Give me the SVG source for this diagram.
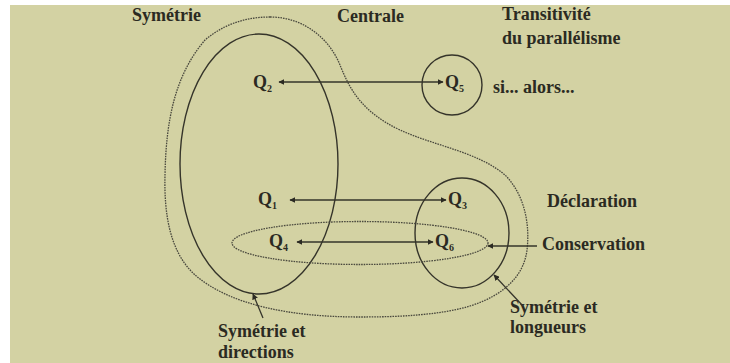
<svg xmlns="http://www.w3.org/2000/svg" width="730" height="363" viewBox="0 0 730 363">
<style>
.t{font-family:"Liberation Serif","Times New Roman",serif;font-weight:bold;font-size:18px;fill:#2b2a22}
.s{font-size:10px}
.solid{fill:none;stroke:#35342a;stroke-width:1.4}
.dot{fill:none;stroke:#4a493e;stroke-width:1.3;stroke-dasharray:1.6 1}
.ar{fill:none;stroke:#35342a;stroke-width:1.3}
</style>
<defs>
<marker id="ah" viewBox="0 0 10 10" refX="9" refY="5" markerWidth="6" markerHeight="6" orient="auto-start-reverse" markerUnits="userSpaceOnUse">
<path d="M0,0 L10,5 L0,10 Z" fill="#2b2a22"/>
</marker>
</defs>
<rect x="0" y="0" width="730" height="363" fill="#ffffff"/>
<rect x="10" y="5" width="720" height="358" fill="#d3d2a3"/>

<g id="centrale">
<path class="dot" d="M270 17 C305 17 330 40 340 65 C350 90 362 112 400 130 C435 146 478 152 505 175 C525 195 530 225 527 250 C524 275 505 295 470 306 C440 315 400 317 360 317 C290 317 230 305 195 275 C170 252 164 215 165 175 C166 120 175 75 205 40 C225 23 248 17 270 17 Z"/>
<text class="t" x="337" y="22">Centrale</text>
</g>

<g id="symetrie-directions">
<ellipse class="solid" cx="259" cy="164" rx="79" ry="130"/>
<text class="t" x="218" y="337">Symétrie et</text>
<text class="t" x="218" y="358">directions</text>
</g>

<g id="symetrie">
<text class="t" x="132" y="21">Symétrie</text>
</g>

<g id="transitivite">
<circle class="solid" cx="452" cy="85" r="30"/>
<text class="t" x="502" y="20">Transitivité</text>
<text class="t" x="502" y="44">du parallélisme</text>
<text class="t" x="493" y="93">si... alors...</text>
</g>

<g id="symetrie-longueurs">
<ellipse class="solid" cx="462" cy="233" rx="47" ry="55"/>
<text class="t" x="510" y="313">Symétrie et</text>
<text class="t" x="510" y="333">longueurs</text>
</g>

<g id="conservation">
<ellipse class="dot" cx="360" cy="243" rx="128" ry="21.5"/>
<text class="t" x="542" y="250">Conservation</text>
</g>

<g id="declaration">
<text class="t" x="547" y="207">Déclaration</text>
</g>

<g id="q2"><text class="t" x="253" y="88">Q<tspan class="s" dy="4">2</tspan></text></g>
<g id="q5"><text class="t" x="445" y="88">Q<tspan class="s" dy="4">5</tspan></text></g>
<g id="q1"><text class="t" x="258" y="205">Q<tspan class="s" dy="4">1</tspan></text></g>
<g id="q3"><text class="t" x="448" y="205">Q<tspan class="s" dy="4">3</tspan></text></g>
<g id="q4"><text class="t" x="269" y="247">Q<tspan class="s" dy="4">4</tspan></text></g>
<g id="q6"><text class="t" x="435" y="247">Q<tspan class="s" dy="4">6</tspan></text></g>

<g id="connectors">
<line class="ar" x1="279" y1="82" x2="443" y2="82" marker-start="url(#ah)" marker-end="url(#ah)"/>
<line class="ar" x1="290" y1="200" x2="446" y2="200" marker-start="url(#ah)" marker-end="url(#ah)"/>
<line class="ar" x1="297" y1="242" x2="433" y2="242" marker-start="url(#ah)" marker-end="url(#ah)"/>
<line class="ar" x1="537" y1="246" x2="488" y2="246" marker-end="url(#ah)"/>
<line class="ar" x1="523" y1="306" x2="494" y2="275" marker-end="url(#ah)"/>
<line class="ar" x1="263" y1="318" x2="253" y2="294" marker-end="url(#ah)"/>
</g>
</svg>
